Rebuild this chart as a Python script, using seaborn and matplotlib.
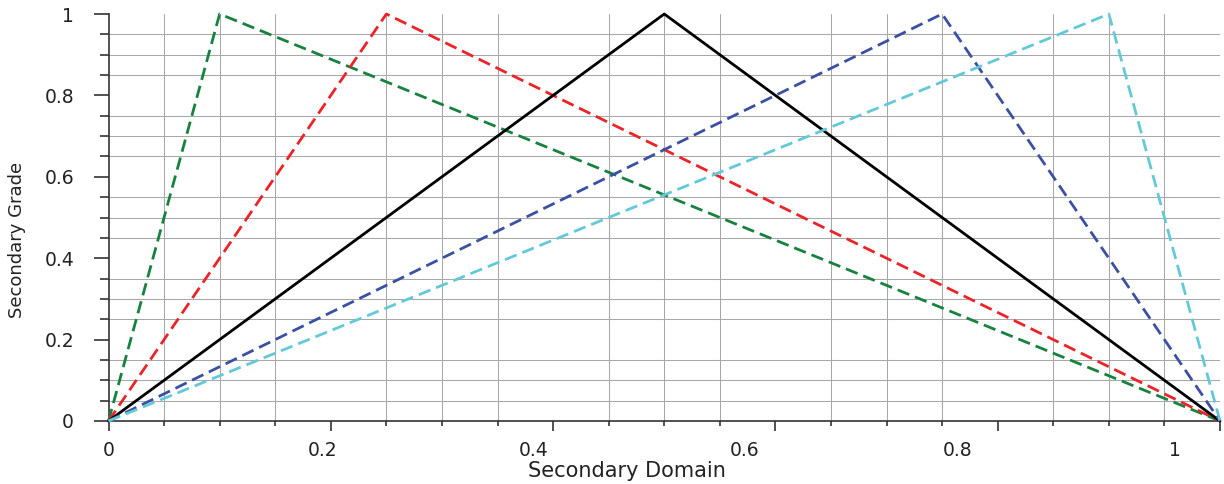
import matplotlib
matplotlib.use("Agg")
import matplotlib.pyplot as plt
import seaborn as sns
import pandas as pd
from matplotlib.ticker import MultipleLocator
from matplotlib.transforms import ScaledTranslation, blended_transform_factory

# ---- data ----
series_names = ["S1", "S2", "S3", "S4", "S5"]
s1_x = [0.0, 0.10, 1.0]
s1_y = [0.0, 1.0, 0.0]
s2_x = [0.0, 0.25, 1.0]
s2_y = [0.0, 1.0, 0.0]
s3_x = [0.0, 0.50, 1.0]
s3_y = [0.0, 1.0, 0.0]
s4_x = [0.0, 0.75, 1.0]
s4_y = [0.0, 1.0, 0.0]
s5_x = [0.0, 0.90, 1.0]
s5_y = [0.0, 1.0, 0.0]
x_tick_values = [0, 0.2, 0.4, 0.6, 0.8, 1.0]
x_tick_labels = ["0", "0.2", "0.4", "0.6", "0.8", "1"]
y_tick_values = [0, 0.2, 0.4, 0.6, 0.8, 1.0]
y_tick_labels = ["0", "0.2", "0.4", "0.6", "0.8", "1"]

# ---- styles ----
colors = {"S1": "#17823f", "S2": "#ec2327", "S3": "#000000", "S4": "#3a50a2", "S5": "#63c9d8"}
dashes = {"S1": (4.5, 2.2), "S2": (4.5, 2.2), "S3": "", "S4": (4.5, 2.2), "S5": (4.5, 2.2)}
x_label_offsets_px = [0, -8, -19, -31, -40, -45]

xs = [s1_x, s2_x, s3_x, s4_x, s5_x]
ys = [s1_y, s2_y, s3_y, s4_y, s5_y]
rows = []
for name, xv, yv in zip(series_names, xs, ys):
    for a, b in zip(xv, yv):
        rows.append({"series": name, "x": a, "y": b})
df = pd.DataFrame(rows)

sns.set_theme(style="ticks")
plt.rcParams['font.family'] = ['DejaVu Sans']

fig = plt.figure(figsize=(12.24, 4.84), dpi=100)
ax = fig.add_axes([108.5 / 1224, 1 - 421 / 484, (1220 - 108.5) / 1224, (421 - 14) / 484])

sns.lineplot(data=df, x="x", y="y", hue="series", style="series",
             palette=colors, dashes=dashes, sort=False, estimator=None,
             legend=False, linewidth=2.0, ax=ax, clip_on=False, zorder=3)

ax.set_xlim(0, 1)
ax.set_ylim(0, 1)

ax.set_xticks(x_tick_values)
ax.set_xticklabels([])
ax.set_yticks(y_tick_values)
ax.set_yticklabels(y_tick_labels, fontsize=13.5, color="#222222")
ax.xaxis.set_minor_locator(MultipleLocator(0.05))
ax.yaxis.set_minor_locator(MultipleLocator(0.05))

ax.grid(False, which="major")
ax.grid(True, which="minor", color="#a8a8a8", linewidth=0.75)
ax.set_axisbelow(True)

ax.tick_params(axis="x", which="major", length=7.2, width=1.2, direction="out", color="#333333")
ax.tick_params(axis="x", which="minor", length=3.6, width=1.2, direction="out", color="#333333")
ax.tick_params(axis="y", which="major", length=10.8, width=1.2, direction="out", color="#333333", pad=14)
ax.tick_params(axis="y", which="minor", length=6.5, width=1.2, direction="out", color="#333333")

for s in ["top", "right"]:
    ax.spines[s].set_visible(False)
for s in ["left", "bottom"]:
    ax.spines[s].set_color("#333333")
    ax.spines[s].set_linewidth(1.2)

base = blended_transform_factory(ax.transData, ax.transAxes)
for v, lab, dx in zip(x_tick_values, x_tick_labels, x_label_offsets_px):
    tr = base + ScaledTranslation(dx / 100, -29 / 100, fig.dpi_scale_trans)
    ax.text(v, 0, lab, transform=tr, ha="center", va="center", fontsize=13.5, color="#222222")

ax.set_xlabel("Secondary Domain", fontsize=15, color="#222222")
ax.xaxis.set_label_coords(0.466, -0.098)
ax.set_ylabel("Secondary Grade", fontsize=13, color="#222222",
              family=["DejaVu Sans"])
ax.yaxis.set_label_coords(-0.074, 0.445)

fig.savefig("out.png", dpi=100)
